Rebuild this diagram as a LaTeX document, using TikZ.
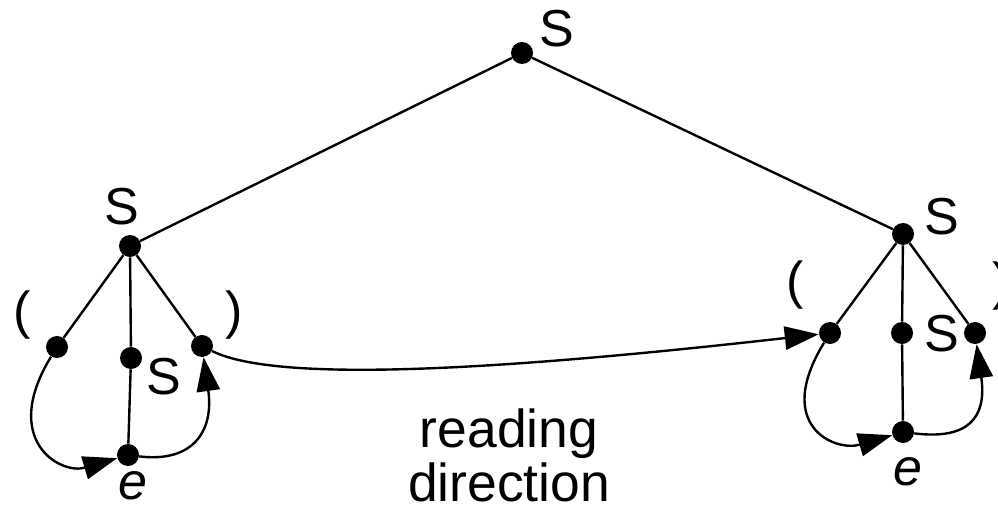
\documentclass[tikz,border=0pt]{standalone}
\usepackage{fontspec}
\setmainfont{Liberation Sans}
\usetikzlibrary{arrows.meta}

\begin{document}
\begin{tikzpicture}[x=0.025cm, y=-0.025cm,
  dot/.style={circle, fill, inner sep=0pt, minimum size=0.55cm},
  lbl/.style={inner sep=0pt, font=\fontsize{37}{37}\selectfont},
  edge/.style={line width=1.7pt},
  arr/.style={-{Triangle[length=0.85cm,width=0.58cm]}, line width=1.7pt}
]
  \useasboundingbox (0,0) rectangle (998,517);

  % tree nodes
  \node[dot] (root) at (522,53) {};
  \node[dot] (ls) at (130,246) {};
  \node[dot] (lo) at (57,347) {};
  \node[dot] (lm) at (131,358) {};
  \node[dot] (lc) at (202,346) {};
  \node[dot] (le) at (128,455) {};
  \node[dot] (rs) at (903,234) {};
  \node[dot] (ro) at (830,333) {};
  \node[dot] (rm) at (902,333) {};
  \node[dot] (rc) at (975,333) {};
  \node[dot] (re) at (903,432) {};

  % labels
  \node[lbl] (rootl) at (557,29) {S};
  \node[lbl] (lsl) at (122,207) {S};
  \node[lbl] (lol) at (22,315) {(};
  \node[lbl] (lml) at (164,377) {S};
  \node[lbl] (lcl) at (234,315) {)};
  \node[lbl] (lel) at (133,486) {\textit{e}};
  \node[lbl] (rsl) at (942,217) {S};
  \node[lbl] (rol) at (795,285) {(};
  \node[lbl] (rml) at (942,334) {S};
  \node[lbl] (rcl) at (1001,286) {)};
  \node[lbl] (rel) at (908,472) {\textit{e}};
  \node[inner sep=0pt, align=center, font=\fontsize{38}{38.5}\selectfont] (dir) at (509,455) {reading\\direction};

  % tree edges
  \draw[edge] (ls) -- (root) -- (rs);
  \draw[edge] (lo) -- (ls) -- (lc);
  \draw[edge] (ls) -- (lm) -- (le);
  \draw[edge] (ro) -- (rs) -- (rc);
  \draw[edge] (rs) -- (rm) -- (re);

  % reading path
  \draw[arr] (lo) .. controls +(-57,93) and +(-68,20) .. (le);
  \draw[arr] (le) .. controls +(65,8) and +(12,85) .. (lc);
  \draw[arr] (lc) .. controls +(78,39) and +(-310,35) .. (ro);
  \draw[arr] (ro) .. controls +(-57,93) and +(-68,20) .. (re);
  \draw[arr] (re) .. controls +(65,8) and +(12,85) .. (rc);
\end{tikzpicture}
\end{document}
